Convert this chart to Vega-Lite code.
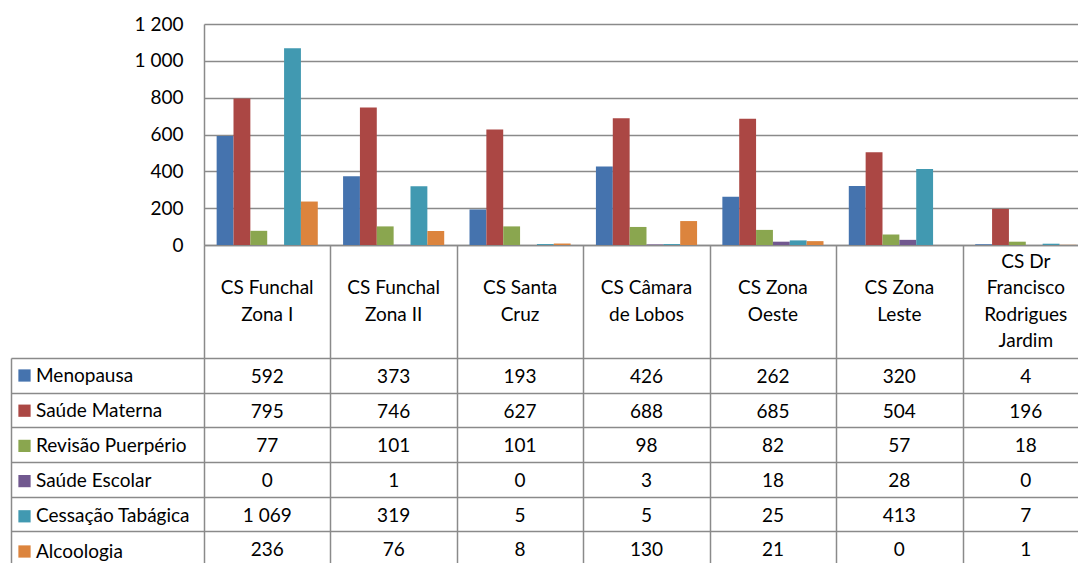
{
  "$schema": "https://vega.github.io/schema/vega-lite/v6.json",
  "background": "white",
  "padding": {"left": 10, "top": 15, "right": 0, "bottom": 0},
  "spacing": 0,
  "bounds": "flush",
  "config": {
    "font": "Lato",
    "view": {"stroke": null},
    "locale": {"number": {"decimal": ",", "thousands": " ", "grouping": [3], "currency": ["", " €"]}},
    "axis": {"labelFont": "Lato", "labelFontSize": 19, "labelColor": "#000000", "gridColor": "#8a8a8a", "gridWidth": 1.5, "domainColor": "#8a8a8a", "domainWidth": 1.5, "tickColor": "#8a8a8a", "tickWidth": 1.5, "title": null},
    "text": {"font": "Lato", "fontSize": 19, "color": "#000000"}
  },
  "datasets": {
    "tabela": [
      {"centro": "CS Funchal Zona I", "rotulo": "CS Funchal|Zona I", "serie": "Menopausa", "valor": 592},
      {"centro": "CS Funchal Zona I", "rotulo": "CS Funchal|Zona I", "serie": "Saúde Materna", "valor": 795},
      {"centro": "CS Funchal Zona I", "rotulo": "CS Funchal|Zona I", "serie": "Revisão Puerpério", "valor": 77},
      {"centro": "CS Funchal Zona I", "rotulo": "CS Funchal|Zona I", "serie": "Saúde Escolar", "valor": 0},
      {"centro": "CS Funchal Zona I", "rotulo": "CS Funchal|Zona I", "serie": "Cessação Tabágica", "valor": 1069},
      {"centro": "CS Funchal Zona I", "rotulo": "CS Funchal|Zona I", "serie": "Alcoologia", "valor": 236},
      {"centro": "CS Funchal Zona II", "rotulo": "CS Funchal|Zona II", "serie": "Menopausa", "valor": 373},
      {"centro": "CS Funchal Zona II", "rotulo": "CS Funchal|Zona II", "serie": "Saúde Materna", "valor": 746},
      {"centro": "CS Funchal Zona II", "rotulo": "CS Funchal|Zona II", "serie": "Revisão Puerpério", "valor": 101},
      {"centro": "CS Funchal Zona II", "rotulo": "CS Funchal|Zona II", "serie": "Saúde Escolar", "valor": 1},
      {"centro": "CS Funchal Zona II", "rotulo": "CS Funchal|Zona II", "serie": "Cessação Tabágica", "valor": 319},
      {"centro": "CS Funchal Zona II", "rotulo": "CS Funchal|Zona II", "serie": "Alcoologia", "valor": 76},
      {"centro": "CS Santa Cruz", "rotulo": "CS Santa|Cruz", "serie": "Menopausa", "valor": 193},
      {"centro": "CS Santa Cruz", "rotulo": "CS Santa|Cruz", "serie": "Saúde Materna", "valor": 627},
      {"centro": "CS Santa Cruz", "rotulo": "CS Santa|Cruz", "serie": "Revisão Puerpério", "valor": 101},
      {"centro": "CS Santa Cruz", "rotulo": "CS Santa|Cruz", "serie": "Saúde Escolar", "valor": 0},
      {"centro": "CS Santa Cruz", "rotulo": "CS Santa|Cruz", "serie": "Cessação Tabágica", "valor": 5},
      {"centro": "CS Santa Cruz", "rotulo": "CS Santa|Cruz", "serie": "Alcoologia", "valor": 8},
      {"centro": "CS Câmara de Lobos", "rotulo": "CS Câmara|de Lobos", "serie": "Menopausa", "valor": 426},
      {"centro": "CS Câmara de Lobos", "rotulo": "CS Câmara|de Lobos", "serie": "Saúde Materna", "valor": 688},
      {"centro": "CS Câmara de Lobos", "rotulo": "CS Câmara|de Lobos", "serie": "Revisão Puerpério", "valor": 98},
      {"centro": "CS Câmara de Lobos", "rotulo": "CS Câmara|de Lobos", "serie": "Saúde Escolar", "valor": 3},
      {"centro": "CS Câmara de Lobos", "rotulo": "CS Câmara|de Lobos", "serie": "Cessação Tabágica", "valor": 5},
      {"centro": "CS Câmara de Lobos", "rotulo": "CS Câmara|de Lobos", "serie": "Alcoologia", "valor": 130},
      {"centro": "CS Zona Oeste", "rotulo": "CS Zona|Oeste", "serie": "Menopausa", "valor": 262},
      {"centro": "CS Zona Oeste", "rotulo": "CS Zona|Oeste", "serie": "Saúde Materna", "valor": 685},
      {"centro": "CS Zona Oeste", "rotulo": "CS Zona|Oeste", "serie": "Revisão Puerpério", "valor": 82},
      {"centro": "CS Zona Oeste", "rotulo": "CS Zona|Oeste", "serie": "Saúde Escolar", "valor": 18},
      {"centro": "CS Zona Oeste", "rotulo": "CS Zona|Oeste", "serie": "Cessação Tabágica", "valor": 25},
      {"centro": "CS Zona Oeste", "rotulo": "CS Zona|Oeste", "serie": "Alcoologia", "valor": 21},
      {"centro": "CS Zona Leste", "rotulo": "CS Zona|Leste", "serie": "Menopausa", "valor": 320},
      {"centro": "CS Zona Leste", "rotulo": "CS Zona|Leste", "serie": "Saúde Materna", "valor": 504},
      {"centro": "CS Zona Leste", "rotulo": "CS Zona|Leste", "serie": "Revisão Puerpério", "valor": 57},
      {"centro": "CS Zona Leste", "rotulo": "CS Zona|Leste", "serie": "Saúde Escolar", "valor": 28},
      {"centro": "CS Zona Leste", "rotulo": "CS Zona|Leste", "serie": "Cessação Tabágica", "valor": 413},
      {"centro": "CS Zona Leste", "rotulo": "CS Zona|Leste", "serie": "Alcoologia", "valor": 0},
      {"centro": "CS Dr Francisco Rodrigues Jardim", "rotulo": "CS Dr|Francisco|Rodrigues|Jardim", "serie": "Menopausa", "valor": 4},
      {"centro": "CS Dr Francisco Rodrigues Jardim", "rotulo": "CS Dr|Francisco|Rodrigues|Jardim", "serie": "Saúde Materna", "valor": 196},
      {"centro": "CS Dr Francisco Rodrigues Jardim", "rotulo": "CS Dr|Francisco|Rodrigues|Jardim", "serie": "Revisão Puerpério", "valor": 18},
      {"centro": "CS Dr Francisco Rodrigues Jardim", "rotulo": "CS Dr|Francisco|Rodrigues|Jardim", "serie": "Saúde Escolar", "valor": 0},
      {"centro": "CS Dr Francisco Rodrigues Jardim", "rotulo": "CS Dr|Francisco|Rodrigues|Jardim", "serie": "Cessação Tabágica", "valor": 7},
      {"centro": "CS Dr Francisco Rodrigues Jardim", "rotulo": "CS Dr|Francisco|Rodrigues|Jardim", "serie": "Alcoologia", "valor": 1}
    ]
  },
  "data": {"name": "tabela"},
  "resolve": {"scale": {"x": "independent", "y": "independent"}},
  "vconcat": [
    {
      "width": 885,
      "height": 221,
      "mark": {"type": "bar"},
      "encoding": {
        "x": {"field": "centro", "type": "nominal", "sort": null,
              "scale": {"paddingInner": 0.2, "paddingOuter": 0.1},
              "axis": {"labels": false, "ticks": false, "domain": true, "grid": false}},
        "xOffset": {"field": "serie", "type": "nominal",
                    "sort": ["Menopausa", "Saúde Materna", "Revisão Puerpério", "Saúde Escolar", "Cessação Tabágica", "Alcoologia"],
                    "scale": {"paddingInner": 0, "paddingOuter": 0}},
        "y": {"field": "valor", "type": "quantitative",
              "scale": {"domain": [0, 1200], "nice": false},
              "axis": {"values": [0, 200, 400, 600, 800, 1000, 1200], "format": ",d", "ticks": false, "domain": true, "grid": true, "labelPadding": 21}},
        "color": {"field": "serie", "type": "nominal",
                  "sort": ["Menopausa", "Saúde Materna", "Revisão Puerpério", "Saúde Escolar", "Cessação Tabágica", "Alcoologia"],
                  "scale": {"domain": ["Menopausa", "Saúde Materna", "Revisão Puerpério", "Saúde Escolar", "Cessação Tabágica", "Alcoologia"],
                            "range": ["#4573ae", "#ab4744", "#8aa64f", "#71588f", "#4199b1", "#dc843d"]},
                  "legend": {"orient": "none", "legendX": -189, "legendY": 342, "title": null, "symbolType": "square", "symbolSize": 150, "symbolStrokeWidth": 0, "symbolOpacity": 1, "labelFont": "Lato", "labelFontSize": 19, "labelColor": "#000000", "labelOffset": 2, "rowPadding": 15.2, "padding": 0}}
      }
    },
    {
      "width": 885,
      "height": 113,
      "transform": [{"filter": "datum.serie === 'Menopausa'"}],
      "encoding": {
        "x": {"field": "centro", "type": "nominal", "sort": null,
              "scale": {"type": "band", "paddingInner": 0, "paddingOuter": 0},
              "axis": {"labels": false, "ticks": false, "domain": false, "grid": true, "tickBand": "extent"}},
        "text": {"field": "rotulo", "type": "nominal"}
      },
      "layer": [
        {
          "transform": [{"filter": "length(split(datum.rotulo, '|')) == 2"}],
          "mark": {"type": "text", "lineBreak": "|", "lineHeight": 26.5, "baseline": "middle", "align": "center", "dy": -13.5}
        },
        {
          "transform": [{"filter": "length(split(datum.rotulo, '|')) == 4"}],
          "mark": {"type": "text", "lineBreak": "|", "lineHeight": 26.5, "baseline": "middle", "align": "center", "dy": -40}
        }
      ]
    },
    {
      "width": 885,
      "height": 208,
      "mark": {"type": "text", "baseline": "middle", "align": "center", "dy": 1.5},
      "encoding": {
        "x": {"field": "centro", "type": "nominal", "sort": null,
              "scale": {"type": "band", "paddingInner": 0, "paddingOuter": 0},
              "axis": {"labels": false, "ticks": false, "domain": false, "grid": true, "tickBand": "extent"}},
        "y": {"field": "serie", "type": "nominal",
              "sort": ["Menopausa", "Saúde Materna", "Revisão Puerpério", "Saúde Escolar", "Cessação Tabágica", "Alcoologia"],
              "scale": {"type": "band", "paddingInner": 0, "paddingOuter": 0},
              "axis": {"labels": false, "ticks": true, "tickSize": -193, "tickBand": "extent", "offset": 193, "domain": true, "grid": true}},
        "text": {"field": "valor", "type": "quantitative", "format": ",d"}
      }
    }
  ]
}
